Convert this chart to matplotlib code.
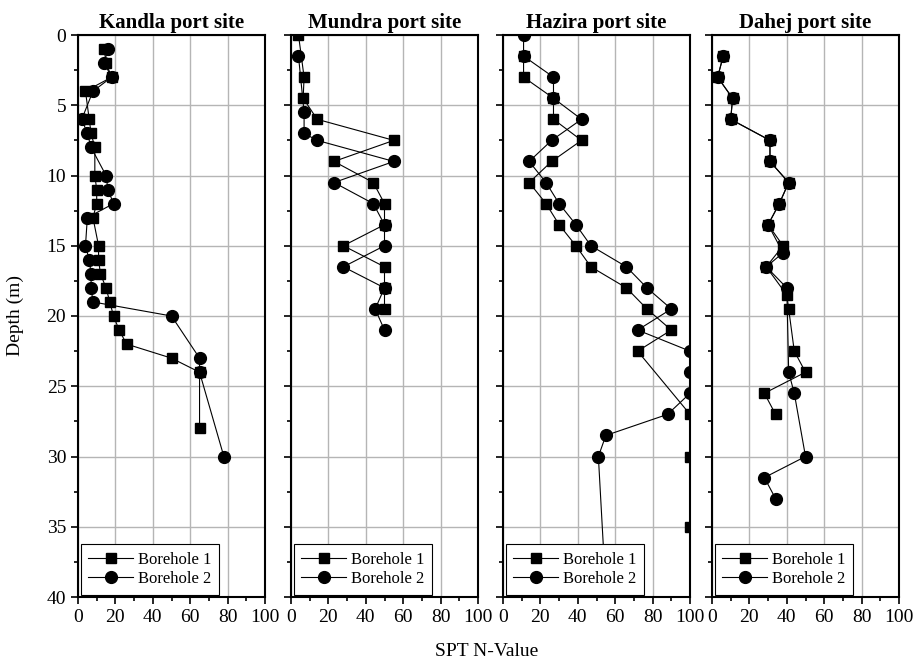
import matplotlib.pyplot as plt
from matplotlib.ticker import MultipleLocator

plt.rcParams['font.family'] = ['Liberation Serif', 'DejaVu Serif']

titles = ["Kandla port site", "Mundra port site", "Hazira port site", "Dahej port site"]

# Kandla
kandla_b1_n = [14, 15, 18, 4, 6, 7, 9, 9, 10, 10, 8, 11, 11, 12, 15, 17, 19, 22, 26, 50, 65, 65]
kandla_b1_d = [1, 2, 3, 4, 6, 7, 8, 10, 11, 12, 13, 15, 16, 17, 18, 19, 20, 21, 22, 23, 24, 28]
kandla_b2_n = [16, 14, 18, 8, 2, 5, 7, 15, 16, 19, 5, 4, 6, 7, 7, 8, 50, 65, 65, 78]
kandla_b2_d = [1, 2, 3, 4, 6, 7, 8, 10, 11, 12, 13, 15, 16, 17, 18, 19, 20, 23, 24, 30]

# Mundra
mundra_b1_n = [4, 7, 6.5, 14, 55, 23, 44, 50, 50, 28, 50, 50, 50]
mundra_b1_d = [0, 3, 4.5, 6, 7.5, 9, 10.5, 12, 13.5, 15, 16.5, 18, 19.5]
mundra_b2_n = [4, 7, 7, 14, 55, 23, 44, 50, 50, 28, 50, 45, 50]
mundra_b2_d = [1.5, 5.5, 7, 7.5, 9, 10.5, 12, 13.5, 15, 16.5, 18, 19.5, 21]

# Hazira
hazira_b1_n = [11, 11, 27, 27, 42, 26, 14, 23, 30, 39, 47, 66, 77, 90, 72, 100, 100, 100]
hazira_b1_d = [1.5, 3, 4.5, 6, 7.5, 9, 10.5, 12, 13.5, 15, 16.5, 18, 19.5, 21, 22.5, 27, 30, 35]
hazira_b2_n = [11, 11, 27, 27, 42, 26, 14, 23, 30, 39, 47, 66, 77, 90, 72, 100, 100, 100, 88, 55, 51, 56]
hazira_b2_d = [0, 1.5, 3, 4.5, 6, 7.5, 9, 10.5, 12, 13.5, 15, 16.5, 18, 19.5, 21, 22.5, 24, 25.5, 27, 28.5, 30, 42]

# Dahej
dahej_b1_n = [6, 3, 11, 10, 31, 31, 41, 36, 30, 38, 29, 40, 41, 44, 50, 28, 34]
dahej_b1_d = [1.5, 3, 4.5, 6, 7.5, 9, 10.5, 12, 13.5, 15, 16.5, 18.5, 19.5, 22.5, 24, 25.5, 27]
dahej_b2_n = [6, 3, 11, 10, 31, 31, 41, 36, 30, 38, 29, 40, 41, 44, 50, 28, 34]
dahej_b2_d = [1.5, 3, 4.5, 6, 7.5, 9, 10.5, 12, 13.5, 15.5, 16.5, 18, 24, 25.5, 30, 31.5, 33]

data = [
    (kandla_b1_n, kandla_b1_d, kandla_b2_n, kandla_b2_d),
    (mundra_b1_n, mundra_b1_d, mundra_b2_n, mundra_b2_d),
    (hazira_b1_n, hazira_b1_d, hazira_b2_n, hazira_b2_d),
    (dahej_b1_n, dahej_b1_d, dahej_b2_n, dahej_b2_d),
]

W, H = 919, 667
fig = plt.figure(figsize=(W / 100, H / 100), dpi=100)
lefts = [78, 291, 503, 712]
top, bottom = 35, 597

for i, (b1n, b1d, b2n, b2d) in enumerate(data):
    ax = fig.add_axes([lefts[i] / W, 1 - bottom / H, 187 / W, (bottom - top) / H])
    ax.plot(b1n, b1d, color='black', lw=0.8, marker='s', ms=7, label='Borehole 1')
    ax.plot(b2n, b2d, color='black', lw=0.8, marker='o', ms=8.5, label='Borehole 2')
    ax.set_xlim(0, 100)
    ax.set_ylim(40, 0)
    ax.xaxis.set_major_locator(MultipleLocator(20))
    ax.xaxis.set_minor_locator(MultipleLocator(10))
    ax.yaxis.set_major_locator(MultipleLocator(5))
    ax.yaxis.set_minor_locator(MultipleLocator(2.5))
    ax.grid(True, which='major', color='#b5b5b5', lw=1)
    ax.set_axisbelow(True)
    ax.tick_params(which='major', direction='out', length=5, width=1.2, labelsize=14)
    ax.tick_params(which='minor', direction='out', length=3, width=1.2)
    if i > 0:
        ax.tick_params(axis='y', labelleft=False)
    for sp in ax.spines.values():
        sp.set_linewidth(1.5)
    ax.set_title(titles[i], fontsize=15, fontweight='bold', pad=5)
    leg = ax.legend(loc='lower left', fontsize=12, fancybox=False, edgecolor='black',
                    framealpha=1, borderaxespad=0.15, handlelength=2.7, handletextpad=0.3,
                    labelspacing=0.2, borderpad=0.45)
    leg.get_frame().set_linewidth(0.8)

fig.text(15 / W, 1 - 315 / H, "Depth (m)", rotation=90, ha='center', va='center', fontsize=14)
fig.text(487 / W, 1 - 651 / H, "SPT N-Value", ha='center', va='center', fontsize=14)

fig.savefig("out.png", dpi=100)
